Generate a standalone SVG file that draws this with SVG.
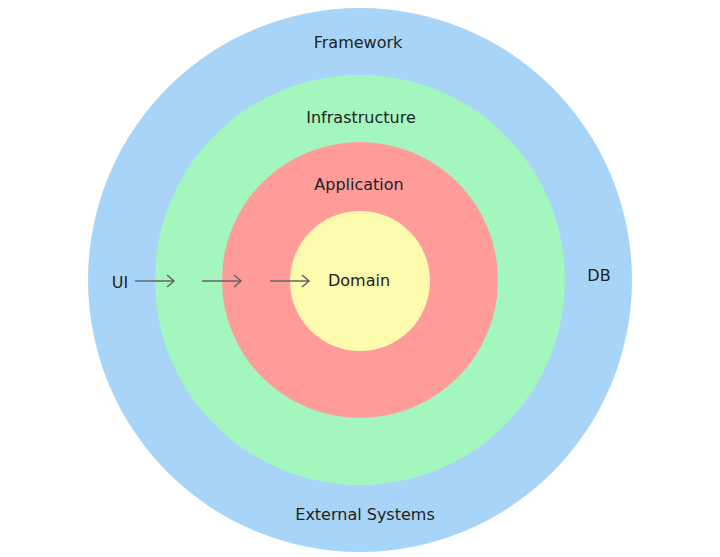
<svg xmlns="http://www.w3.org/2000/svg" width="720" height="557" viewBox="0 0 720 557">
<style>
text{font-family:"DejaVu Sans",sans-serif;font-size:16px;fill:#222;text-anchor:middle}
.a{stroke:#666;stroke-width:1.6;fill:none}
</style>
<rect width="720" height="557" fill="#fff"/>
<g id="framework"><circle cx="360" cy="280" r="272" fill="#a8d5f7"/><text x="358" y="48">Framework</text><text x="599" y="281">DB</text><text x="365" y="520">External Systems</text><text x="120" y="288">UI</text></g>
<g id="infrastructure"><circle cx="360" cy="280" r="205" fill="#a3f7be"/><text x="361" y="123">Infrastructure</text></g>
<g id="application"><circle cx="360" cy="280" r="138" fill="#ff9c9a"/><text x="359" y="190">Application</text></g>
<g id="domain"><circle cx="360" cy="281" r="70" fill="#fbfaad"/><text x="359" y="286">Domain</text></g>
<g id="connectors">
<path class="a" d="M135 281H174M167 275L174 281L167 287"/>
<path class="a" d="M202 281H241M234 275L241 281L234 287"/>
<path class="a" d="M270 281H309M302 275L309 281L302 287"/>
</g>
</svg>
